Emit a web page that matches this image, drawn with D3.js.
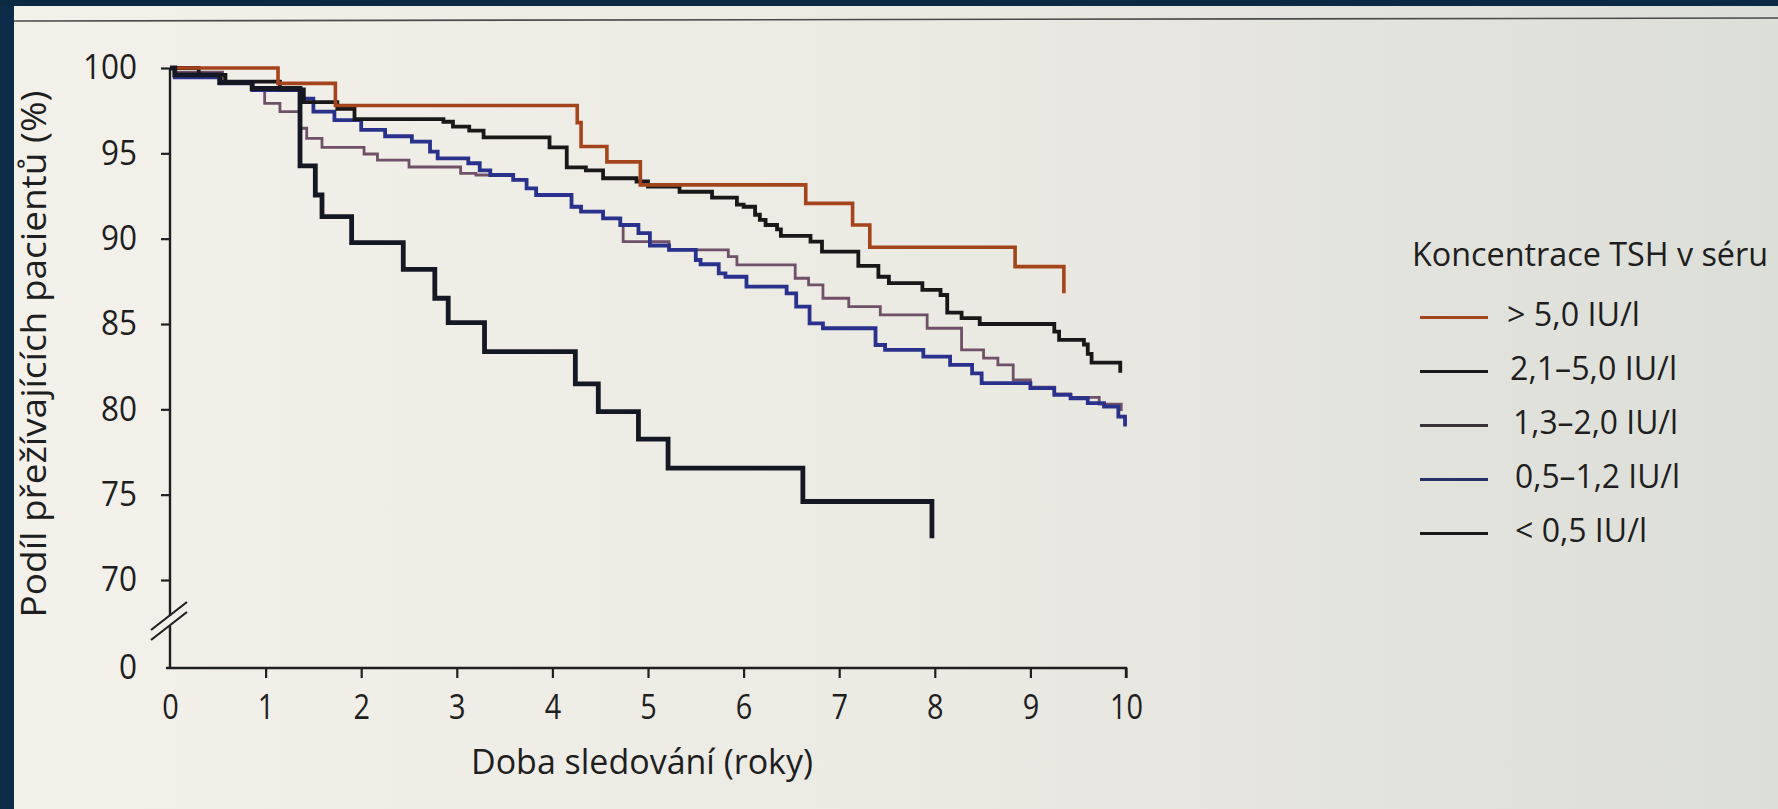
<!DOCTYPE html>
<html>
<head>
<meta charset="utf-8">
<script src="https://cdn.jsdelivr.net/npm/d3@7"></script>
<style>
  body { margin: 0; background: #0b2a45; }
  svg { display: block; font-family: "Open Sans", sans-serif; }
</style>
</head>
<body>
<svg id="chart"></svg>
<script>
// survival curves, years of follow-up vs % surviving
const tHigh = [0, 1.13, 1.73, 4.26, 4.30, 4.57, 4.92, 6.65, 7.14, 7.32, 8.84, 9.35];
const sHigh = [100, 99.1, 97.8, 96.8, 95.4, 94.5, 93.15, 92.07, 90.8, 89.5, 88.36, 86.8];

const tMid = [0, 0.3, 0.58, 1.15, 1.4, 1.75, 1.93, 2.86, 2.96, 3.13, 3.28, 3.97, 4.15, 4.35, 4.53, 4.88,
              5.0, 5.33, 5.67, 5.93, 6.0, 6.12, 6.17, 6.23, 6.35, 6.39, 6.7, 6.82, 7.2, 7.41, 7.52, 7.87,
              8.06, 8.13, 8.28, 8.47, 9.25, 9.3, 9.56, 9.6, 9.64, 9.94];
const sMid = [100, 99.6, 99.2, 98.75, 98.0, 97.6, 97.0, 96.85, 96.56, 96.33, 95.94, 95.35, 94.18, 94.0, 93.54, 93.35,
              93.05, 92.75, 92.4, 92.0, 91.87, 91.4, 91.1, 90.8, 90.55, 90.16, 89.83, 89.24, 88.4, 87.77, 87.4, 87.0,
              86.7, 85.67, 85.34, 85.0, 84.55, 84.07, 83.8, 83.25, 82.74, 82.15];

const tLowMid = [0, 0.05, 0.55, 0.85, 0.99, 1.15, 1.36, 1.43, 1.59, 2.03, 2.17, 2.5, 3.04, 3.2, 3.59, 3.73, 3.83,
                 4.2, 4.3, 4.53, 4.71, 4.74, 5.22, 5.84, 5.93, 6.54, 6.68, 6.83, 7.1, 7.43, 7.92, 8.28, 8.51,
                 8.66, 8.82, 9.0, 9.25, 9.42, 9.72, 9.95];
const sLowMid = [100, 99.75, 99.14, 98.8, 97.93, 97.44, 96.47, 95.88, 95.35, 94.96, 94.6, 94.2, 93.83, 93.73, 93.44, 92.95, 92.56,
                 91.87, 91.58, 91.19, 90.8, 89.83, 89.34, 88.95, 88.46, 87.68, 87.29, 86.51, 86.02, 85.53, 84.75, 83.48, 83.0,
                 82.6, 81.72, 81.3, 80.9, 80.7, 80.3, 79.9];

const tLow = [0, 0.05, 0.52, 0.86, 1.38, 1.5, 1.72, 2.0, 2.25, 2.53, 2.72, 2.8, 3.12, 3.24, 3.35, 3.59, 3.73, 3.83,
              4.2, 4.3, 4.53, 4.71, 4.9, 5.02, 5.22, 5.5, 5.55, 5.74, 5.81, 6.03, 6.45, 6.55, 6.69, 6.83, 7.38, 7.48,
              7.88, 8.16, 8.39, 8.49, 9.0, 9.25, 9.42, 9.6, 9.77, 9.92, 9.99];
const sLow = [100, 99.45, 99.1, 98.7, 98.2, 97.44, 96.95, 96.37, 96.0, 95.69, 95.1, 94.71, 94.42, 94.0, 93.73, 93.44, 92.95, 92.56,
              91.87, 91.58, 91.19, 90.8, 90.32, 89.6, 89.34, 88.75, 88.5, 87.97, 87.77, 87.19, 86.8, 86.02, 85.04, 84.75, 83.77, 83.48,
              83.09, 82.6, 82.11, 81.53, 81.24, 80.85, 80.65, 80.36, 80.16, 79.57, 78.99];

const tVeryLow = [0, 0.05, 0.52, 0.86, 1.36, 1.52, 1.59, 1.9, 2.44, 2.77, 2.91, 3.29, 4.24, 4.48, 4.9, 5.21, 6.62, 7.97];
const sVeryLow = [100, 99.6, 99.15, 98.8, 94.26, 92.56, 91.29, 89.77, 88.2, 86.51, 85.08, 83.38, 81.49, 79.87, 78.25, 76.55, 74.6, 72.45];

const groupLabels = ["> 5,0 IU/l", "2,1–5,0 IU/l", "1,3–2,0 IU/l", "0,5–1,2 IU/l", "< 0,5 IU/l"];
const xTicks = [0, 1, 2, 3, 4, 5, 6, 7, 8, 9, 10];
const yTicks = [0, 70, 75, 80, 85, 90, 95, 100];

const W = 1778, H = 809;
const svg = d3.select("#chart").attr("width", W).attr("height", H);

// paper background + photo edges
const defs = svg.append("defs");
const pg = defs.append("linearGradient").attr("id", "paper").attr("x1", 0).attr("x2", 1).attr("y1", 0).attr("y2", 0);
pg.append("stop").attr("offset", 0).attr("stop-color", "#f3f1ea");
pg.append("stop").attr("offset", 0.55).attr("stop-color", "#eae9e2");
pg.append("stop").attr("offset", 1).attr("stop-color", "#dcded8");
svg.append("rect").attr("width", W).attr("height", H).attr("fill", "url(#paper)");
svg.append("rect").attr("width", 14).attr("height", H).attr("fill", "#0c2c4a");
svg.append("rect").attr("width", W).attr("height", 6).attr("fill", "#0a2a44");
svg.append("line").attr("x1", 14).attr("y1", 21).attr("x2", W).attr("y2", 18)
  .attr("stroke", "#4a4a4a").attr("stroke-width", 1.6);

const x = d3.scaleLinear().domain([0, 10]).range([170, 1126]);
// broken axis: 0 sits below the break, 70-100 is the real range
const y = d3.scaleLinear().domain([0, 70, 100]).range([668, 580, 68]);

const textColor = "#1e1e1e";

// x axis
const xAxis = svg.append("g").attr("transform", `translate(0,${y(0)})`)
  .call(d3.axisBottom(x).tickValues(xTicks).tickSize(10).tickPadding(17).tickFormat(d3.format("d")));
xAxis.select(".domain").attr("d", `M${x(0) - 4},0H${x(10)}v10`).attr("stroke", "#1f1f1f").attr("stroke-width", 2.4);
xAxis.selectAll(".tick line").attr("stroke", "#1f1f1f").attr("stroke-width", 2.2)
  .filter(d => d === 0).remove();
xAxis.selectAll(".tick text").attr("font-size", 34).attr("fill", textColor).attr("font-family", "Open Sans")
  .attr("textLength", d => String(d).length * 16.5).attr("lengthAdjust", "spacingAndGlyphs");

// y axis
const yAxis = svg.append("g").attr("transform", `translate(${x(0)},0)`)
  .call(d3.axisLeft(y).tickValues(yTicks).tickSize(9).tickPadding(24).tickFormat(d3.format("d")));
yAxis.select(".domain").remove();
yAxis.selectAll(".tick line").attr("stroke", "#1f1f1f").attr("stroke-width", 2.2)
  .filter(d => d === 0).remove();
yAxis.selectAll(".tick text").attr("font-size", 34).attr("fill", textColor).attr("font-family", "Open Sans")
  .attr("textLength", d => String(d).length * 18).attr("lengthAdjust", "spacingAndGlyphs");

// axis line with the break
const breakTop = 616, breakBottom = 626;
svg.append("path")
  .attr("d", `M${x(0)},${y(100)}V${breakTop}M${x(0)},${breakBottom}V${y(0)}`)
  .attr("stroke", "#1f1f1f").attr("stroke-width", 2.4).attr("fill", "none");
[breakTop, breakBottom].forEach(by => {
  svg.append("line")
    .attr("x1", x(0) - 19).attr("y1", by + 14).attr("x2", x(0) + 17).attr("y2", by - 14)
    .attr("stroke", "#1f1f1f").attr("stroke-width", 2.2);
});

// curves
const series = [
  {t: tLowMid, s: sLowMid, color: "#6f5068", width: 2.8},
  {t: tLow, s: sLow, color: "#28328c", width: 3.8},
  {t: tMid, s: sMid, color: "#181818", width: 3.8},
  {t: tHigh, s: sHigh, color: "#a4441c", width: 3.6},
  {t: tVeryLow, s: sVeryLow, color: "#141824", width: 4.8}
];
const line = d3.line().x(d => x(d[0])).y(d => y(d[1])).curve(d3.curveStepAfter);
svg.append("g").selectAll("path").data(series).join("path")
  .attr("d", d => line(d.t.map((t, i) => [t, d.s[i]])))
  .attr("fill", "none")
  .attr("stroke", d => d.color)
  .attr("stroke-width", d => d.width)
  .attr("stroke-linejoin", "miter");

// axis titles
svg.append("text")
  .attr("x", 471).attr("y", 774)
  .attr("font-size", 35).attr("fill", textColor)
  .attr("textLength", 342).attr("lengthAdjust", "spacingAndGlyphs")
  .text("Doba sledování (roky)");

svg.append("text")
  .attr("transform", "translate(46,354) rotate(-90)")
  .attr("text-anchor", "middle")
  .attr("font-size", 34).attr("fill", textColor)
  .attr("textLength", 527).attr("lengthAdjust", "spacingAndGlyphs")
  .text("Podíl přežívajících pacientů (%)");

// legend
const legendColors = ["#a4441c", "#1a1a1a", "#3a3038", "#26306a", "#1a1a1a"];
const legendWidths = [133, 167, 165, 165, 132];
const legend = svg.append("g");
legend.append("text")
  .attr("x", 1412).attr("y", 266)
  .attr("font-size", 33).attr("fill", textColor)
  .attr("textLength", 356).attr("lengthAdjust", "spacingAndGlyphs")
  .text("Koncentrace TSH v séru");
const items = legend.selectAll("g.item").data(groupLabels).join("g")
  .attr("class", "item")
  .attr("transform", (d, i) => `translate(0,${317.5 + i * 54})`);
items.append("line")
  .attr("x1", 1420).attr("x2", 1488)
  .attr("stroke", (d, i) => legendColors[i]).attr("stroke-width", 3.2);
items.append("text")
  .attr("x", (d, i) => [1507, 1510, 1513, 1515, 1515][i]).attr("y", 8)
  .attr("font-size", 32).attr("fill", textColor)
  .attr("textLength", (d, i) => legendWidths[i]).attr("lengthAdjust", "spacingAndGlyphs")
  .text(d => d);
</script>
</body>
</html>
